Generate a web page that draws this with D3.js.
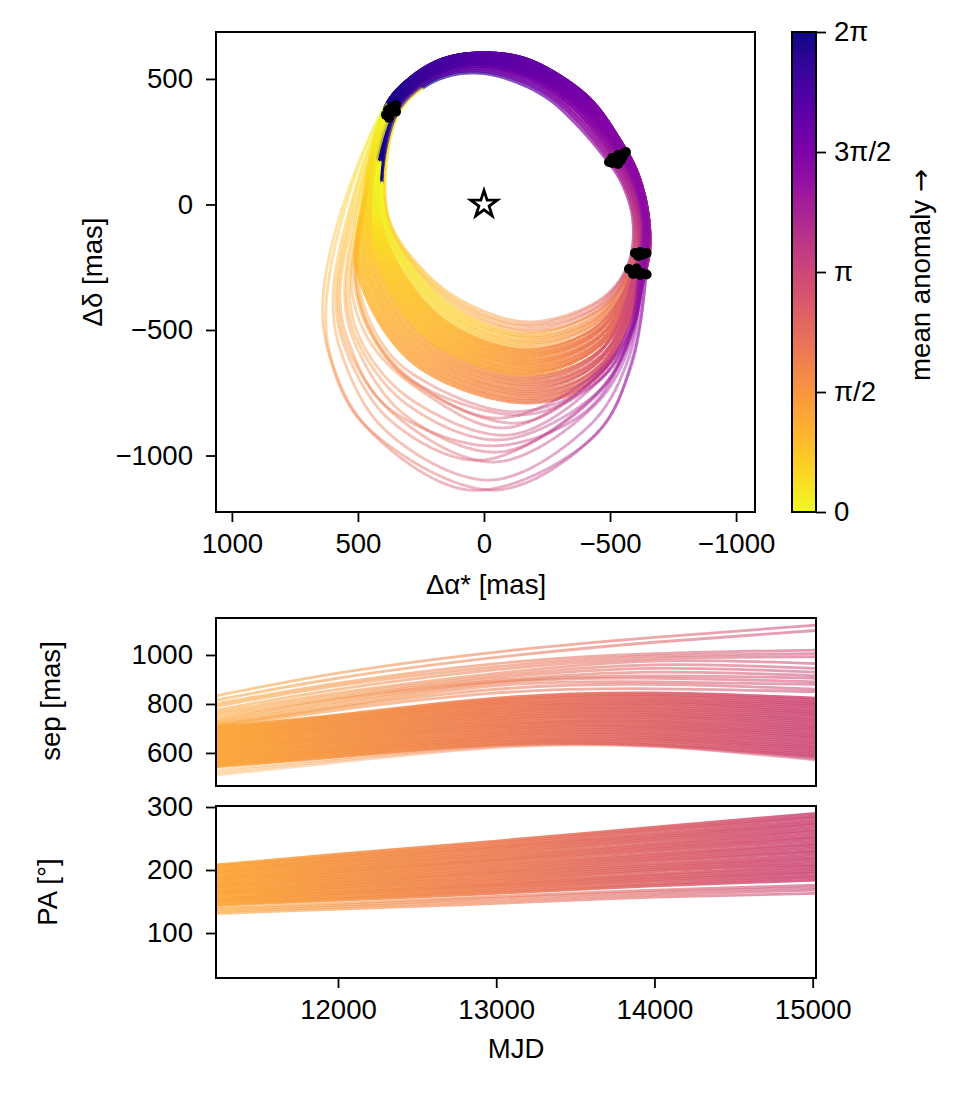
<!DOCTYPE html>
<html>
<head>
<meta charset="utf-8">
<style>
body { margin: 0; background: #fff; }
text { font-family: "Liberation Sans", Helvetica, Arial, sans-serif; fill: #000; }
</style>
</head>
<body>
<div id="container"></div>
<script src="https://cdn.jsdelivr.net/npm/d3@7"></script>
<script>
// upper half of the orbit band, inner edge to outer edge, mas
// going from the right join over the top to the left blob
const upperArcs = [
    [[-571,-241],[-591,-66],[-544,90],[-452,221],[-357,329],[-262,416],[-155,476],[-12,520],[123,516],[242,464],[345,349]],
    [[-579,-241],[-598,-66],[-551,94],[-461,226],[-365,338],[-266,427],[-155,488],[-11,529],[126,524],[246,470],[350,353]],
    [[-588,-241],[-605,-67],[-559,97],[-470,232],[-373,347],[-271,437],[-155,500],[-9,539],[129,531],[250,476],[356,358]],
    [[-596,-241],[-612,-67],[-566,101],[-479,237],[-381,357],[-275,448],[-155,512],[-8,548],[132,539],[254,481],[361,362]],
    [[-605,-241],[-619,-68],[-574,104],[-488,242],[-389,366],[-280,459],[-155,524],[-7,557],[135,546],[258,487],[366,366]],
    [[-613,-241],[-627,-68],[-581,108],[-496,248],[-397,375],[-284,469],[-155,536],[-5,567],[139,554],[262,493],[372,371]],
    [[-622,-241],[-634,-69],[-589,111],[-505,253],[-405,384],[-289,480],[-155,548],[-4,576],[142,561],[266,499],[377,375]],
    [[-630,-241],[-641,-69],[-596,115],[-514,258],[-413,393],[-293,491],[-155,560],[-3,585],[145,569],[270,505],[382,379]],
    [[-639,-241],[-648,-70],[-604,118],[-523,264],[-421,403],[-298,501],[-155,572],[-1,595],[148,576],[274,510],[388,384]],
    [[-647,-241],[-655,-70],[-611,122],[-532,269],[-429,412],[-302,512],[-155,584],[0,604],[151,584],[278,516],[393,388]]
];

// mean anomaly (fraction of a turn) at each control point, going round the orbit
const anomalyInner = [.02,.05,.10,.19,.29,.40,.52,.60,.66,.70,.73,.76,.78,.82,.87,.95,1.02];
const anomalyMid   = [.03,.11,.16,.24,.35,.46,.56,.62,.67,.71,.75,.78,.81,.85,.90,.97,1.03];
const anomalyOuter = [.08,.14,.21,.32,.43,.53,.58,.63,.68,.73,.78,.81,.84,.87,.92,1.00,1.08];
const anomalyWide  = [.12,.20,.25,.33,.47,.62,.68,.70,.71,.72,.73,.76,.79,.82,.85,.88,.92,1.00,1.12];
const anomalyEarly = [.09,.13,.19,.28,.38,.50,.57,.63,.68,.72,.78,.84,.90,.95,1.00,1.04,1.09];

// wide orbits, lower half: nw, w, w2, sw, s, se, se2 points, then upper arc row
const wideOrbits = [
    [571,-42,639,-380,619,-580,492,-859,56,-1138,-421,-938,-579,-659,9],
    [559,-42,627,-420,599,-639,452,-898,-44,-1138,-460,-898,-587,-620,9],
    [540,-42,599,-380,563,-600,393,-898,-24,-1098,-421,-878,-571,-620,8],
    [532,-42,587,-380,548,-580,373,-859,16,-1019,-421,-779,-567,-560,8],
    [524,-42,579,-380,536,-580,353,-839,-44,-1026,-440,-799,-579,-560,7],
    [508,-42,552,-380,500,-580,313,-839,-63,-986,-448,-759,-579,-540,8],
    [516,-42,571,-380,532,-560,393,-799,-24,-962,-401,-827,-559,-580,6],
    [500,-42,544,-380,484,-580,302,-799,-63,-938,-460,-739,-587,-500,7],
    [490,-42,532,-380,468,-580,286,-779,-103,-918,-460,-699,-587,-492,8],
    [485,-30,524,-341,444,-560,254,-739,-83,-890,-452,-679,-587,-480,6],
    [480,-20,512,-321,436,-540,270,-719,-143,-870,-468,-667,-595,-472,7],
    [478,-20,505,-321,429,-540,250,-725,-63,-851,-445,-672,-579,-480,5],
    [482,-15,510,-300,429,-540,290,-700,-160,-838,-470,-690,-591,-492,6],
    [476,-10,500,-300,413,-540,276,-680,-120,-826,-455,-700,-579,-500,8]
];

// dense orbits, lower half: nw, w, sw, s, se points, then upper arc row
const denseOrbitsOuter = [
    [480,18,504,-261,282,-631,-183,-791,-460,-679,9],
    [477,16,496,-262,276,-624,-187,-782,-463,-670,9],
    [474,15,489,-261,269,-618,-180,-773,-456,-662,8],
    [472,13,481,-262,263,-611,-186,-763,-462,-653,7],
    [469,11,473,-260,256,-605,-181,-754,-457,-645,9],
    [466,9,465,-263,250,-598,-188,-745,-464,-636,6],
    [463,8,458,-262,243,-591,-177,-736,-453,-628,8],
    [460,6,450,-263,237,-585,-185,-726,-461,-619,5],
    [457,4,442,-261,230,-578,-182,-717,-458,-611,9],
    [455,2,435,-264,224,-572,-190,-708,-466,-602,7],
    [452,1,427,-262,218,-565,-179,-699,-455,-594,4],
    [449,-1,419,-263,211,-558,-183,-690,-459,-585,8]
];
const denseOrbitsMid = [
    [446,-3,411,-261,205,-552,-188,-680,-464,-576,6],
    [443,-4,404,-264,198,-545,-175,-671,-451,-568,9],
    [440,-6,396,-262,192,-539,-186,-662,-462,-559,7],
    [438,-8,388,-264,185,-532,-181,-653,-457,-551,5],
    [435,-10,381,-262,179,-525,-187,-643,-463,-542,8],
    [432,-11,373,-265,172,-519,-178,-634,-454,-534,6],
    [429,-13,365,-263,166,-512,-184,-625,-460,-525,4],
    [426,-15,357,-264,159,-506,-189,-616,-465,-517,7],
    [423,-16,350,-262,153,-499,-180,-606,-456,-508,5],
    [421,-18,342,-265,146,-492,-183,-597,-459,-499,3],
    [418,-20,334,-263,140,-486,-186,-588,-462,-491,6],
    [415,-22,327,-264,133,-479,-177,-579,-453,-482,4]
];
const denseOrbitsInner = [
    [412,-23,319,-262,127,-473,-191,-570,-466,-474,2],
    [409,-25,311,-265,121,-466,-182,-560,-458,-465,5],
    [406,-27,303,-263,114,-459,-185,-551,-461,-456,3],
    [403,-28,296,-266,108,-453,-179,-542,-456,-448,1],
    [401,-30,289,-264,101,-446,-188,-532,-464,-440,4],
    [398,-32,280,-267,95,-440,-184,-524,-460,-431,2],
    [395,-33,274,-265,88,-433,-176,-514,-452,-422,3]
];
const denseOrbitsEarly = [
    [392,-35,264,-268,83,-426,-190,-505,-465,-415,1],
    [389,-37,258,-266,74,-420,-180,-497,-458,-405,2],
    [387,-39,250,-270,70,-413,-186,-486,-462,-397,0],
    [383,-40,243,-268,62,-408,-178,-478,-455,-390,1],
    [381,-42,234,-269,56,-400,-183,-468,-460,-380,0]
];

// measured astrometry, mas
const astrometryX = [389,377,365,349,349,381,
    -496,-508,-524,-540,-556,-563,-544,-532,-508,-532,-552,
    -599,-619,-635,-645,-611,-627,
    -575,-595,-611,-627,-645,-591,-619,-605];
const astrometryY = [357,345,388,396,369,376,
    169,185,177,197,205,209,177,161,165,197,193,
    -193,-189,-197,-193,-205,-201,
    -257,-265,-269,-273,-279,-277,-281,-255];

const mjdSamples = [11229, 12000, 13000, 14000, 15021];
const mjdGradientStops = [11229, 13000, 15021];
const anomalyGradientStops = [.2, .33, .5];

const sepOutliers = [
    [833,926,1012,1072,1122],[815,905,990,1052,1100],[800,885,965,1005,1020],[790,875,952,995,1005],
    [775,860,940,985,992],[765,845,925,975,965],[755,835,915,960,945],[745,825,905,945,930],
    [735,820,895,930,915],[728,810,890,915,905],[722,800,885,905,890],[715,790,875,890,880],
    [712,785,860,880,860],[708,775,845,862,850]
];
const sepDense = [
    [706,755,824,845,824],[700,749,817,838,816],[695,743,811,831,807],[689,737,804,823,799],
    [684,731,798,816,791],[678,726,791,808,783],[672,720,784,801,774],[667,714,778,794,766],
    [661,708,771,786,758],[656,702,765,779,750],[650,696,758,772,741],[644,690,751,765,733],
    [639,684,745,757,725],[633,678,738,750,716],[628,672,732,743,708],[622,667,725,735,700],
    [616,661,718,728,692],[611,655,712,721,683],[605,649,705,713,675],[600,643,699,706,667],
    [594,637,692,699,659],[588,631,685,692,650],[583,625,679,684,642],[577,619,672,677,634],
    [572,613,666,670,625],[566,608,659,662,617],[560,602,652,655,609],[555,596,646,648,600],
    [549,590,639,640,592],[543,584,633,633,584]
];
const sepLow = [
    [530,576,630,630,578],[520,570,626,628,574],[510,562,622,626,571]
];

const paDense = [
    [208,225,246,268,290],[206,222,243,265,286],[204,220,240,262,283],[201,217,237,258,279],
    [199,215,235,255,275],[197,212,232,252,272],[195,210,229,249,268],[193,207,226,246,264],
    [190,205,223,242,261],[188,202,220,239,257],[186,200,217,236,253],[184,197,215,233,250],
    [182,195,212,230,246],[179,192,209,226,242],[177,190,206,223,239],[175,187,203,220,235],
    [173,185,200,217,231],[171,182,197,214,228],[168,180,195,210,224],[166,177,192,207,220],
    [164,175,189,204,217],[162,172,186,201,213],[160,170,183,198,209],[157,167,180,194,206],
    [155,165,177,191,202],[153,162,175,188,198],[151,160,172,185,195],[149,157,169,182,191],
    [146,155,166,178,188],[144,152,163,175,184]
];
const paLow = [
    [140,147,158,168,176],[137,144,155,165,172],[134,141,151,161,168],[131,138,147,157,163]
];

const orbitXTicks = [1000, 500, 0, -500, -1000];
const orbitYTicks = [500, 0, -500, -1000];
const sepTicks = [600, 800, 1000];
const paTicks = [100, 200, 300];
const mjdTicks = [12000, 13000, 14000, 15000];
const colorbarTicks = [0, 0.25, 0.5, 0.75, 1];
const colorbarLabels = ["0", "π/2", "π", "3π/2", "2π"];

const fontSize = 27.6;
const svg = d3.select("#container").append("svg").attr("width", 964).attr("height", 1094);
const defs = svg.append("defs");
const plasma = t => d3.interpolatePlasma(1 - t);

const xOrbit = d3.scaleLinear().domain([1063, -1075]).range([216, 755]);
const yOrbit = d3.scaleLinear().domain([687, -1225]).range([32, 512]);
const xMjd = d3.scaleLinear().domain([11229, 15021]).range([216, 816]);
const ySep = d3.scaleLinear().domain([1151, 465]).range([618, 786]);
const yPa = d3.scaleLinear().domain([301.6, 28.6]).range([806, 978]);
const yBar = d3.scaleLinear().domain([0, 1]).range([512, 32]);

function addClip(id, x, y) {
    defs.append("clipPath").attr("id", id).append("rect")
        .attr("x", x[0]).attr("y", y[0]).attr("width", x[1] - x[0]).attr("height", y[1] - y[0]);
}
addClip("clip-orbit", xOrbit.range(), yOrbit.range());
addClip("clip-sep", xMjd.range(), ySep.range());
addClip("clip-pa", xMjd.range(), yPa.range());

// orbit plot
const closedLine = d3.line().curve(d3.curveCatmullRomClosed.alpha(0.5));
const probe = svg.append("path").attr("fill", "none").attr("stroke", "none");

function orbitSegments(row, stops) {
    const arc = upperArcs[row[row.length - 1]];
    const lower = d3.range(0, row.length - 1, 2).map(i => [row[i], row[i + 1]]);
    const pts = [...lower, ...arc].map(p => [xOrbit(p[0]), yOrbit(p[1])]);
    // the closed curve starts drawing at its second point, so put the last point in front
    probe.attr("d", closedLine([pts[pts.length - 1], ...pts.slice(0, -1)]));
    const node = probe.node();
    const total = node.getTotalLength();
    const chords = d3.pairs([...pts, pts[0]], (a, b) => Math.hypot(b[0] - a[0], b[1] - a[1]));
    const chordSum = d3.cumsum(chords);
    const domain = [0, ...chordSum].map(d => d / chordSum[chordSum.length - 1]);
    const anomaly = d3.scaleLinear().domain(domain).range(stops);
    const step = 6;
    const n = Math.ceil(total / step);
    return d3.range(n).map(i => {
        const a = node.getPointAtLength(total * i / n);
        const b = node.getPointAtLength(total * (i + 1) / n);
        return { a, b, t: anomaly((i + 0.5) / n) % 1 };
    });
}

const orbitGroups = [
    ...denseOrbitsEarly.map(row => ({ row, stops: anomalyEarly, alpha: 0.45 })),
    ...denseOrbitsInner.map(row => ({ row, stops: anomalyInner, alpha: 0.6 })),
    ...denseOrbitsMid.map(row => ({ row, stops: anomalyMid, alpha: 0.85 })),
    ...denseOrbitsOuter.map(row => ({ row, stops: anomalyOuter, alpha: 0.75 })),
    ...wideOrbits.map(row => ({ row, stops: anomalyWide, alpha: 0.42 }))
];

const orbitLayer = svg.append("g").attr("clip-path", "url(#clip-orbit)");
orbitLayer.selectAll("g.orbit")
    .data(orbitGroups)
    .join("g")
    .attr("class", "orbit")
    .attr("opacity", d => d.alpha)
    .attr("fill", "none")
    .selectAll("line")
    .data(d => orbitSegments(d.row, d.stops))
    .join("line")
    .attr("x1", d => d.a.x).attr("y1", d => d.a.y)
    .attr("x2", d => d.b.x).attr("y2", d => d.b.y)
    .attr("stroke", d => plasma(d.t))
    .attr("stroke-width", 2.8)
    .attr("stroke-linecap", "round");
probe.remove();

orbitLayer.selectAll("circle")
    .data(d3.zip(astrometryX, astrometryY))
    .join("circle")
    .attr("cx", d => xOrbit(d[0]))
    .attr("cy", d => yOrbit(d[1]))
    .attr("r", 5)
    .attr("fill", "#000");

svg.append("path")
    .attr("d", d3.symbol(d3.symbolStar, 220)())
    .attr("transform", `translate(${xOrbit(0)},${yOrbit(0)})`)
    .attr("fill", "#fff")
    .attr("stroke", "#000")
    .attr("stroke-width", 2.8)
    .attr("stroke-linejoin", "miter");

// sep and PA panels share one colour ramp along MJD
const ramp = defs.append("linearGradient")
    .attr("id", "mjd-ramp")
    .attr("gradientUnits", "userSpaceOnUse")
    .attr("x1", xMjd.range()[0]).attr("x2", xMjd.range()[1])
    .attr("y1", 0).attr("y2", 0);
ramp.selectAll("stop")
    .data(d3.zip(mjdGradientStops, anomalyGradientStops))
    .join("stop")
    .attr("offset", d => (xMjd(d[0]) - xMjd.range()[0]) / (xMjd.range()[1] - xMjd.range()[0]))
    .attr("stop-color", d => plasma(d[1]));

function drawSeries(series, y, clip, alpha) {
    const line = d3.line()
        .x((d, i) => xMjd(mjdSamples[i]))
        .y(d => y(d))
        .curve(d3.curveNatural);
    svg.append("g").attr("clip-path", `url(#${clip})`)
        .selectAll("path")
        .data(series)
        .join("path")
        .attr("d", line)
        .attr("fill", "none")
        .attr("stroke", "url(#mjd-ramp)")
        .attr("stroke-width", 2.8)
        .attr("stroke-opacity", alpha);
}
drawSeries(sepOutliers, ySep, "clip-sep", 0.55);
drawSeries(sepLow, ySep, "clip-sep", 0.35);
drawSeries(sepDense, ySep, "clip-sep", 0.85);
drawSeries(paLow, yPa, "clip-pa", 0.6);
drawSeries(paDense, yPa, "clip-pa", 0.85);

// colorbar
const barRamp = defs.append("linearGradient")
    .attr("id", "bar-ramp")
    .attr("x1", 0).attr("x2", 0).attr("y1", 1).attr("y2", 0);
barRamp.selectAll("stop")
    .data(d3.range(0, 1.01, 0.05))
    .join("stop")
    .attr("offset", d => d)
    .attr("stop-color", d => plasma(d));
svg.append("rect")
    .attr("x", 792).attr("y", 32).attr("width", 24).attr("height", 480)
    .attr("fill", "url(#bar-ramp)");

// axes
function styleAxis(g) {
    g.select(".domain").remove();
    g.selectAll(".tick line").attr("stroke", "#000").attr("stroke-width", 1.8);
    g.selectAll(".tick text").attr("font-size", fontSize).attr("fill", "#000");
    g.attr("font-family", null);
}
function frame(x, y) {
    svg.append("rect")
        .attr("x", x[0]).attr("y", y[0]).attr("width", x[1] - x[0]).attr("height", y[1] - y[0])
        .attr("fill", "none").attr("stroke", "#000").attr("stroke-width", 2);
}

const intFormat = d3.format("d");
svg.append("g").attr("transform", "translate(0,512)")
    .call(d3.axisBottom(xOrbit).tickValues(orbitXTicks).tickFormat(intFormat).tickSize(10).tickPadding(11))
    .call(styleAxis);
svg.append("g").attr("transform", "translate(216,0)")
    .call(d3.axisLeft(yOrbit).tickValues(orbitYTicks).tickFormat(intFormat).tickSize(10).tickPadding(13))
    .call(styleAxis);
svg.append("g").attr("transform", "translate(216,0)")
    .call(d3.axisLeft(ySep).tickValues(sepTicks).tickFormat(intFormat).tickSize(10).tickPadding(13))
    .call(styleAxis);
svg.append("g").attr("transform", "translate(216,0)")
    .call(d3.axisLeft(yPa).tickValues(paTicks).tickFormat(intFormat).tickSize(10).tickPadding(13))
    .call(styleAxis);
svg.append("g").attr("transform", "translate(0,978)")
    .call(d3.axisBottom(xMjd).tickValues(mjdTicks).tickFormat(intFormat).tickSize(10).tickPadding(11))
    .call(styleAxis);
svg.append("g").attr("transform", "translate(816,0)")
    .call(d3.axisRight(yBar).tickValues(colorbarTicks)
        .tickFormat((d, i) => colorbarLabels[i]).tickSize(10).tickPadding(8))
    .call(styleAxis);

frame(xOrbit.range(), yOrbit.range());
frame(xMjd.range(), ySep.range());
frame(xMjd.range(), yPa.range());
frame([792, 816], yBar.range().slice().reverse());

// axis titles
function title(text, x, y, rotate) {
    return svg.append("text")
        .attr("transform", `translate(${x},${y})` + (rotate ? " rotate(-90)" : ""))
        .attr("text-anchor", "middle")
        .attr("font-size", fontSize)
        .text(text);
}
title("Δα* [mas]", 486, 594, false);
title("Δδ [mas]", 102, 272, true);
title("sep [mas]", 60, 701, true);
title("PA [°]", 57, 892, true);
title("MJD", 516, 1058, false);
const anomalyTitle = title("mean anomaly ", 930, 275, true);
anomalyTitle.append("tspan").attr("font-family", "DejaVu Sans").text("→");
</script>
</body>
</html>
